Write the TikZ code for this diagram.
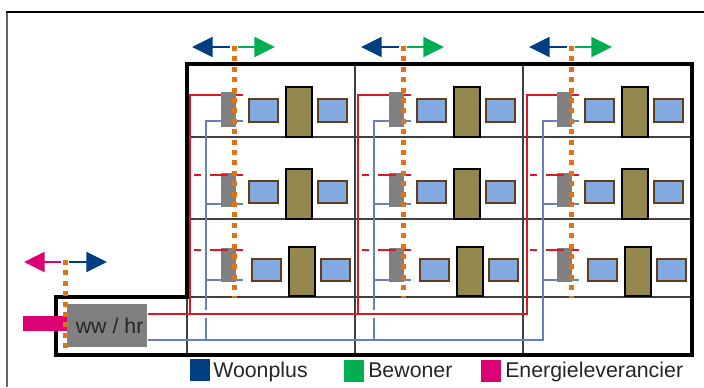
\documentclass[tikz,border=0pt]{standalone}
\usepackage{fontspec}
\setmainfont{Liberation Sans}
\usetikzlibrary{arrows.meta}
\definecolor{wpblue}{RGB}{0,62,130}
\definecolor{bwgreen}{RGB}{0,175,80}
\definecolor{elpink}{RGB}{220,0,115}
\definecolor{wire}{RGB}{215,25,40}
\definecolor{pipe}{RGB}{100,130,185}
\definecolor{cabinet}{RGB}{148,136,78}
\definecolor{panel}{RGB}{130,170,225}
\definecolor{trim}{RGB}{100,60,25}
\definecolor{dots}{RGB}{225,115,20}
\tikzset{
  frame/.style={draw=black,line width=2.6pt},
  gridline/.style={draw=black!75,line width=0.8pt},
  boiler/.style={fill=black!50,draw=none},
  radiator/.style={draw=trim,fill=panel,line width=1.8pt},
  tank/.style={draw=black,fill=cabinet,line width=2.2pt},
  feedline/.style={draw=wire,line width=2.1pt},
  returnline/.style={draw=pipe,line width=1.9pt},
  boundary/.style={draw=dots,line width=3.75pt,dash pattern=on 3.75pt off 4.05pt},
  owner/.style={-{Triangle[length=15.5pt,width=15pt]},line width=1.5pt},
  legendkey/.style={minimum width=14.5pt,minimum height=16pt,inner sep=0pt},
  legendtext/.style={font=\fontsize{16}{18}\selectfont,text=black!85,anchor=base west,inner sep=0pt}
}
\begin{document}
\begin{tikzpicture}[x=0.75pt,y=-0.75pt]
    \useasboundingbox (0,0) rectangle (704,387);
    % Outer picture frame
    \draw[black!60,line width=1.5pt] (7,387) -- (7,12);
    \draw[black,line width=1.7pt] (6,12) -- (704,12);

    % Building outline
    \coordinate (B_tl) at (187,64);
    \coordinate (B_tr) at (692,64);
    \coordinate (B_br) at (692,355);
    \coordinate (S_bl) at (56,355);
    \coordinate (S_tl) at (56,297);
    \coordinate (S_tr) at (187,297);
    \draw[gridline] (187,137) -- (B_tr |- 0,137);
    \draw[gridline] (187,219) -- (B_tr |- 0,219);
    \draw[gridline] (187,297) -- (B_tr |- 0,297);
    \draw[gridline] (355,64) -- (355,355);
    \draw[gridline] (523,64) -- (523,355);
    \draw[gridline] (S_tr) -- (187,355);

    % Connection unit
    \node[fill=black!50,minimum width=60pt,minimum height=32pt,inner sep=0pt,anchor=north west,font=\fontsize{16}{18}\selectfont,text=black!85] (unit) at (67,304) {\hspace*{3.5pt}ww / hr};

    % Main lines from the ww / hr unit
    \coordinate (F_out) at (527,314);
    \coordinate (P_out) at (543,340);
    \draw[feedline] (unit.east |- F_out) -- (F_out) -- (527,95) -- (566,95);
    \draw[feedline] (358,314) -- (358,95) -- (398,95);
    \draw[feedline] (190,314) -- (190,95) -- (230,95);
    \draw[returnline] (unit.east |- P_out) -- (P_out) -- (543,121) -- (566,121);
    \foreach \x in {206,374} {
        \draw[returnline] (\x,340) -- (\x,318);
        \draw[returnline] (\x,310) -- (\x,121) -- (\x+24,121);
    }

    % Dwellings
    \foreach \x in {0,168,336} {
        \foreach \ra/\rb/\bt/\bb/\pt/\pb/\tt/\tb/\d in {95/121/92/127/99/122/87/137/0,175/204/173/207/181/203/169/219/0,250/280/248/282/259/281/247/296/3} {
            % Taps
            \draw[feedline] (\x+228,\ra) -- (\x+243,\ra);
            \draw[returnline] (\x+206,\rb) -- (\x+243,\rb);
            % Boiler, radiators and tank
            \path[boiler] (\x+221,\bt) rectangle (\x+236,\bb);
            \draw[radiator] (\x+\d+249,\pt) rectangle (\x+\d+278,\pb);
            \draw[radiator] (\x+\d+318,\pt) rectangle (\x+\d+347,\pb);
            \draw[tank] (\x+\d+286,\tt) rectangle (\x+\d+312,\tb);
        }
        % Cut off supply on the lower floors
        \foreach \ra in {175,250} {
            \draw[feedline] (\x+194,\ra) -- (\x+201,\ra);
            \draw[feedline] (\x+210,\ra) -- (\x+228,\ra);
        }
    }

    % Building outline on top
    \draw[frame,line join=miter] (S_tr) -- (B_tl) -- (B_tr) -- (B_br) -- (S_bl) -- (S_tl) -- cycle;
    \draw[feedline] (190,290) -- (190,314);

    % Supply into the unit
    \fill[elpink] (23,316) rectangle (unit.west |- 0,331);

    % Ownership boundaries
    \foreach \x in {234,403,571} {
        \draw[boundary] (\x,46) -- (\x,298);
        \draw[wpblue,owner] (\x-4,47) -- (\x-42,47);
        \draw[bwgreen,owner] (\x+4,47) -- (\x+41,47);
    }
    \draw[boundary] (65,260) -- (65,348);
    \draw[elpink,owner] (61,262) -- (24,262);
    \draw[wpblue,owner] (69,262) -- (107,262);

    % Legend
    \node[fill=wpblue,legendkey] (key_a) at (200,370) {};
    \node[legendtext] (txt_a) at (213,377) {Woonplus};
    \node[fill=bwgreen,legendkey] (key_b) at (354,371) {};
    \node[legendtext] (txt_b) at (368,377) {Bewoner};
    \node[fill=elpink,legendkey] (key_c) at (491,371) {};
    \node[legendtext] (txt_c) at (505,377) {Energieleverancier};
\end{tikzpicture}
\end{document}
